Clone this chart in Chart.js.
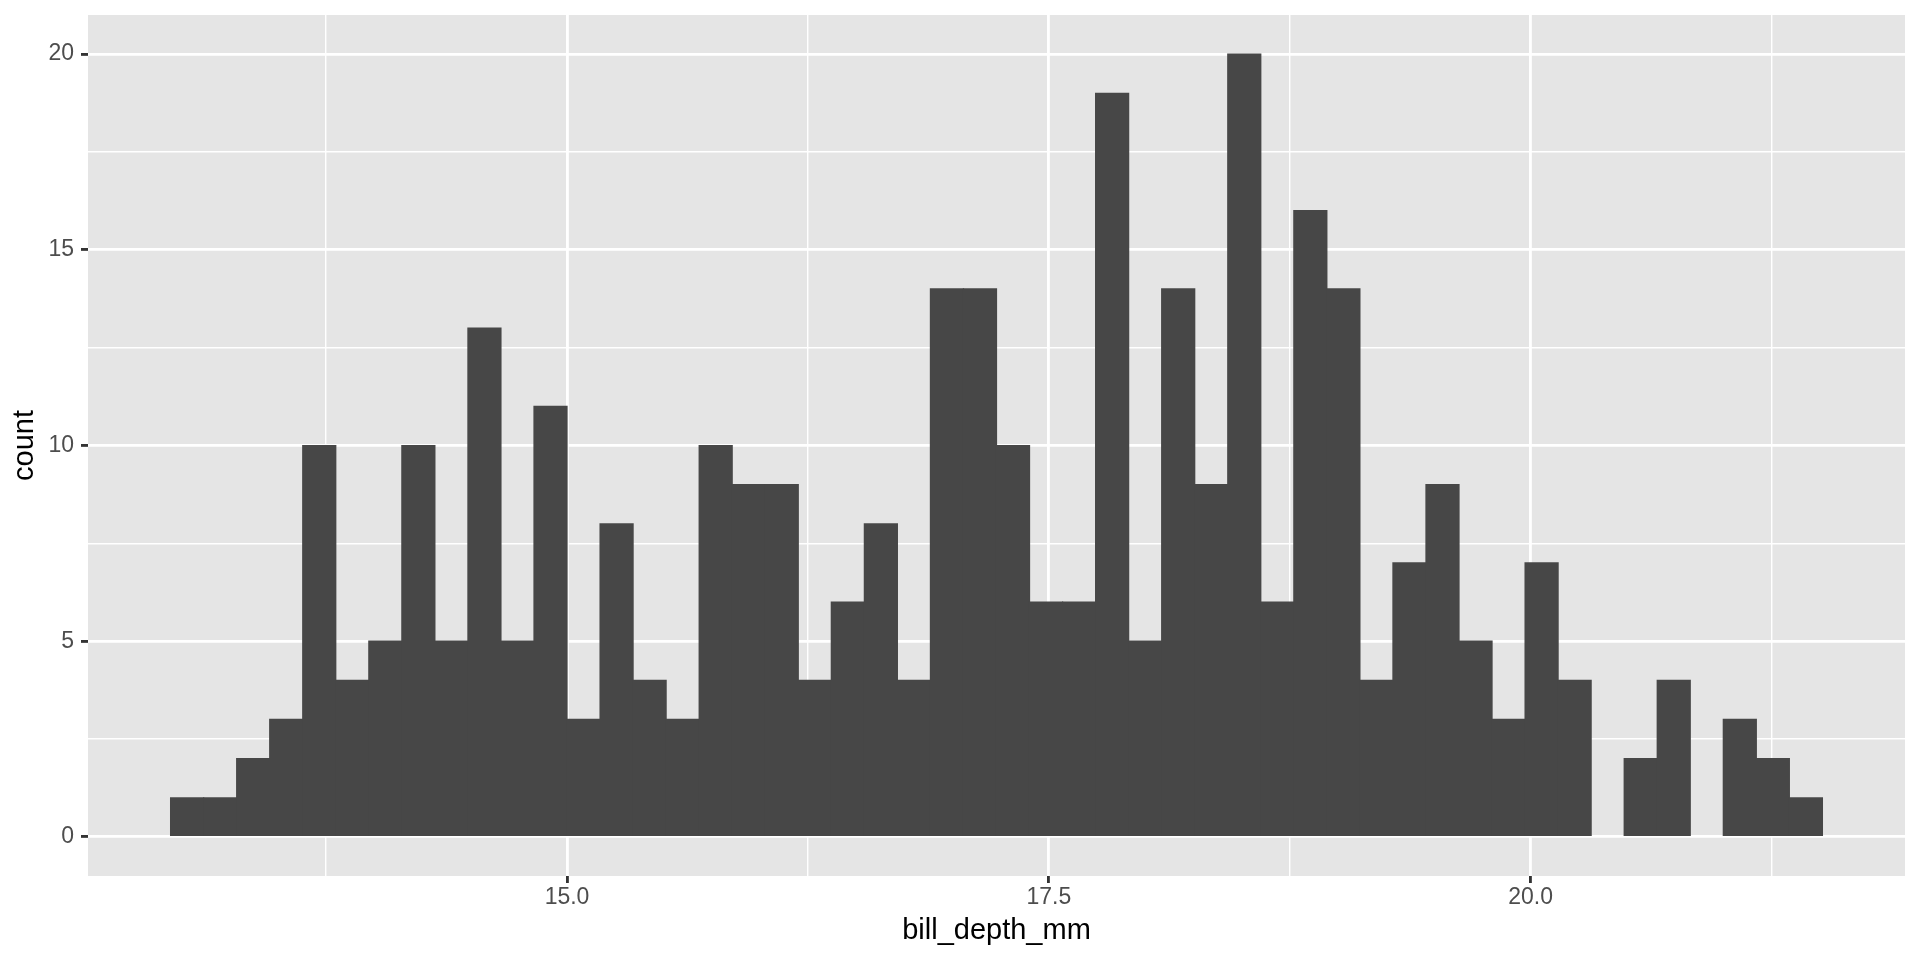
<!DOCTYPE html>
<html>
<head>
<meta charset="utf-8">
<script src="https://cdn.jsdelivr.net/npm/chart.js@4.4.1/dist/chart.umd.min.js"></script>
<style>
  html, body { margin: 0; padding: 0; background: #ffffff; }
  #wrap { width: 1920px; height: 960px; }
</style>
</head>
<body>
<div id="wrap"><canvas id="histChart" width="1920" height="960"></canvas></div>
<script>
// histogram of bill depth, 50 bins
const binStart = 12.942857
const binWidth = 0.171429
const counts = [
    1, 1, 2, 3, 10, 4, 5, 10, 5, 13,
    5, 11, 3, 8, 4, 3, 10, 9, 9, 4,
    6, 8, 4, 14, 14, 10, 6, 6, 19, 5,
    14, 9, 20, 6, 16, 14, 4, 7, 9, 5,
    3, 7, 4, 0, 2, 4, 0, 3, 2, 1
]
const xMajorTicks = [15.0, 17.5, 20.0]
const xMinorTicks = [13.75, 16.25, 18.75, 21.25]
const yMajorTicks = [0, 5, 10, 15, 20]
const yMinorTicks = [2.5, 7.5, 12.5, 17.5]
const xTitle = 'bill_depth_mm'
const yTitle = 'count'

let points = []
for (let i = 0; i < counts.length; i++) {
    points.push({ x: binStart + binWidth * (i + 0.5), y: counts[i] })
}

// x range with ggplot's 5% expansion
const xLo = binStart
const xHi = binStart + binWidth * counts.length
const xPad = (xHi - xLo) * 0.05

const fontFamily = '"Liberation Sans", Arial, sans-serif'

function isMajor(list, v) {
    return list.some(m => Math.abs(m - v) < 1e-6)
}

// grey panel behind everything
const panelBg = {
    id: 'panelBg',
    beforeDraw(chart) {
        const { ctx, chartArea } = chart
        ctx.save()
        ctx.fillStyle = '#E5E5E5'
        ctx.fillRect(chartArea.left, chartArea.top, chartArea.right - chartArea.left, chartArea.bottom - chartArea.top)
        ctx.restore()
    }
}

const data = {
    datasets: [{
        label: 'count',
        data: points,
        backgroundColor: '#474747',
        borderWidth: 0,
        barPercentage: 1,
        categoryPercentage: 1,
        inflateAmount: c => (c.raw && c.raw.y === 0 ? 0 : 0.6)
    }]
}

const config = {
    type: 'bar',
    data: data,
    options: {
        responsive: false,
        animation: false,
        devicePixelRatio: 1,
        layout: { padding: { left: 0, top: 15, right: 15, bottom: 0 } },
        plugins: {
            legend: { display: false },
            tooltip: { enabled: false }
        },
        scales: {
            x: {
                type: 'linear',
                offset: false,
                min: xLo - xPad,
                max: xHi + xPad,
                afterBuildTicks: s => {
                    s.ticks = xMajorTicks.concat(xMinorTicks).sort((a, b) => a - b).map(v => ({ value: v }))
                },
                afterFit: s => {
                    s.height = 84
                    s.paddingLeft = 0
                    s.paddingRight = 0
                },
                border: { display: false },
                grid: {
                    offset: false,
                    color: '#ffffff',
                    lineWidth: c => (isMajor(xMajorTicks, c.tick.value) ? 2.85 : 1.42),
                    drawTicks: true,
                    tickLength: 7,
                    tickWidth: 2.85,
                    tickColor: c => (isMajor(xMajorTicks, c.tick.value) ? '#333333' : 'rgba(0,0,0,0)')
                },
                ticks: {
                    autoSkip: false,
                    maxRotation: 0,
                    padding: 1,
                    color: '#4D4D4D',
                    font: { family: fontFamily, size: 23 },
                    callback: v => (isMajor(xMajorTicks, v) ? v.toFixed(1) : '')
                },
                title: {
                    display: true,
                    text: xTitle,
                    color: '#000000',
                    font: { family: fontFamily, size: 29 },
                    padding: { top: 0, bottom: 12 }
                }
            },
            y: {
                type: 'linear',
                min: -1,
                max: 21,
                afterBuildTicks: s => {
                    s.ticks = yMajorTicks.concat(yMinorTicks).sort((a, b) => a - b).map(v => ({ value: v }))
                },
                afterFit: s => {
                    s.width = 88
                    s.paddingTop = 0
                    s.paddingBottom = 0
                },
                border: { display: false },
                grid: {
                    color: '#ffffff',
                    lineWidth: c => (isMajor(yMajorTicks, c.tick.value) ? 2.85 : 1.42),
                    drawTicks: true,
                    tickLength: 7,
                    tickWidth: 2.85,
                    tickColor: c => (isMajor(yMajorTicks, c.tick.value) ? '#333333' : 'rgba(0,0,0,0)')
                },
                ticks: {
                    autoSkip: false,
                    padding: 7,
                    color: '#4D4D4D',
                    font: { family: fontFamily, size: 23 },
                    callback: v => (isMajor(yMajorTicks, v) ? String(v) : '')
                },
                title: {
                    display: true,
                    text: yTitle,
                    color: '#000000',
                    font: { family: fontFamily, size: 29 },
                    padding: { top: 8, bottom: 0 }
                }
            }
        }
    },
    plugins: [panelBg]
}

const histChart = new Chart(document.getElementById('histChart'), config)
</script>
</body>
</html>
